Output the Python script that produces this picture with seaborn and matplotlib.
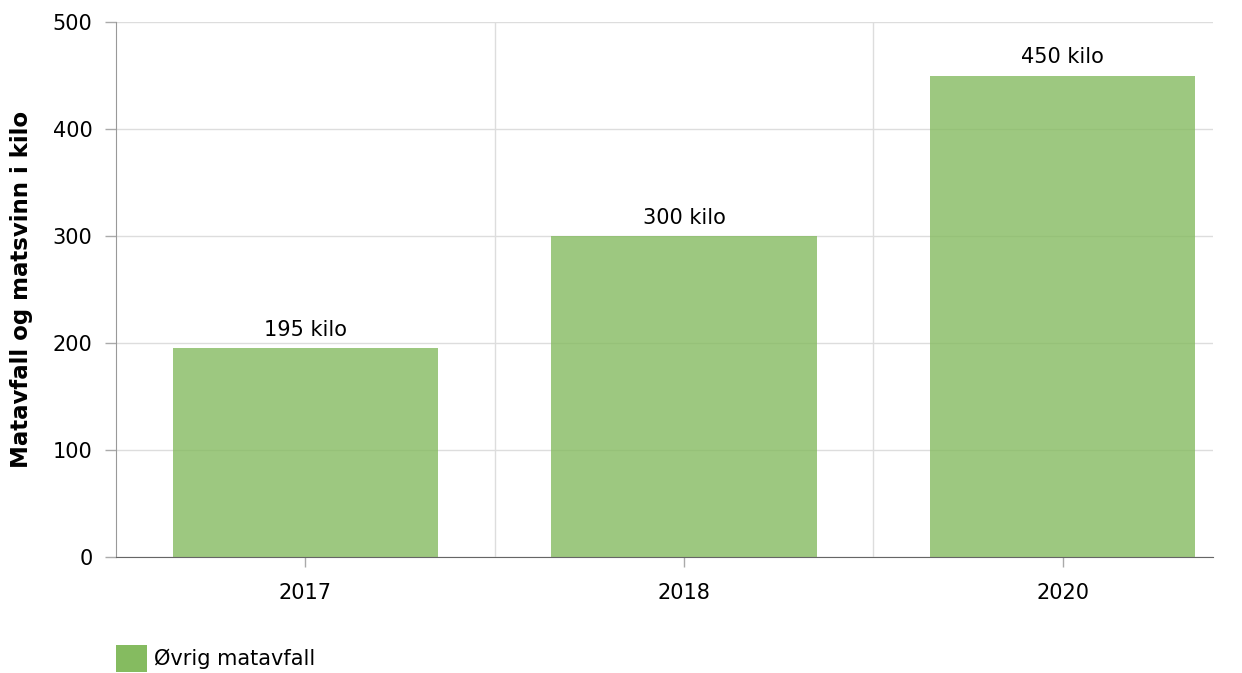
import pandas as pd
import matplotlib.pyplot as plt
import seaborn as sns
from matplotlib.patches import Patch

years = ["2017", "2018", "2020"]
values = [195, 300, 450]
series_name = "Øvrig matavfall"

df = pd.DataFrame({"year": years, "kilo": values})

sns.set_style("white")
plt.rcParams['font.family'] = ['DejaVu Sans']

fig = plt.figure(figsize=(12.42, 6.73), dpi=100)
ax = fig.add_axes([0.0934, 0.1724, 0.8833, 0.7949])

base = "#85bb60"
sns.barplot(data=df, x="year", y="kilo", color=base, alpha=0.8, width=0.70,
            saturation=1, edgecolor="none", ax=ax)

for i, v in enumerate(values):
    ax.annotate(f"{v} kilo", (i, v), xytext=(0, 6), textcoords="offset points",
                ha="center", va="bottom", fontsize=15, color="black")

ax.set_ylim(0, 500)
ax.set_xlim(-0.5, 2.397)
ax.set_yticks(range(0, 501, 100))
ax.set_xticks([0.5, 1.5], minor=True)
ax.grid(axis="y", which="major", color="#dddddd", lw=1)
ax.grid(axis="x", which="minor", color="#dddddd", lw=1)
ax.set_axisbelow(True)

for s in ["top", "right"]:
    ax.spines[s].set_visible(False)
ax.spines["left"].set_color("#999999")
ax.spines["bottom"].set_color("#666666")
ax.tick_params(axis="y", which="major", left=True, length=8, width=1, color="#aaaaaa",
               labelsize=15, labelcolor="black", pad=9)
ax.tick_params(axis="x", which="major", bottom=True, length=7, width=1, color="#aaaaaa",
               labelsize=15, labelcolor="black", pad=12)
ax.tick_params(axis="x", which="minor", bottom=False, length=0)

ax.set_xlabel("")
ax.set_ylabel("Matavfall og matsvinn i kilo", fontsize=16.5, fontweight="bold",
              color="black", labelpad=14)

leg = fig.legend(handles=[Patch(facecolor=base, edgecolor="none", label=series_name)],
                 loc="lower left", bbox_to_anchor=(0.078, -0.027), frameon=False,
                 fontsize=15, handlelength=1.5, handleheight=1.65, handletextpad=0.35)
for t in leg.get_texts():
    t.set_color("black")

fig.savefig("out.png", dpi=100)
